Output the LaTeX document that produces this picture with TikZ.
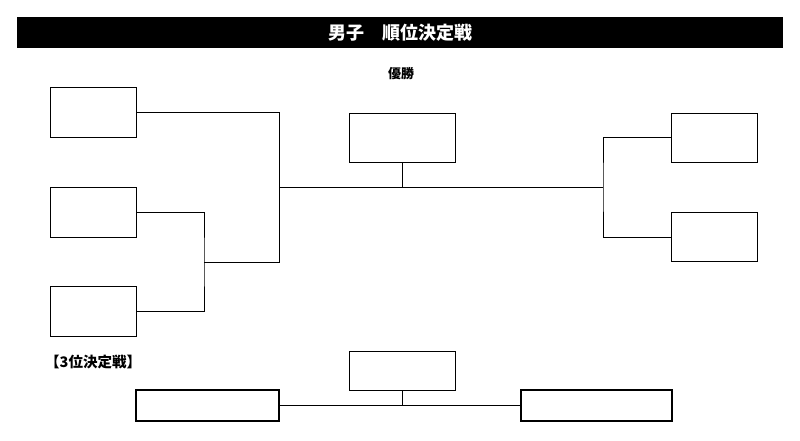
\documentclass[tikz,border=0pt]{standalone}
\usepackage{fontspec}
\newfontfamily\jpfont{Noto Sans CJK JP}
\usetikzlibrary{positioning}

\tikzset{
	entrybox/.style = {draw, line width = 1pt, minimum width = 86pt, minimum height = 50pt, inner sep = 0pt},
	finalbox/.style = {entrybox, minimum width = 106pt, minimum height = 49pt},
	thirdbox/.style = {draw, line width = 2.5pt, minimum height = 31pt, inner sep = 0pt},
	bracket/.style = {line width = 1pt},
	caption/.style = {font = \jpfont\bfseries\fontsize{13pt}{15pt}\selectfont, inner sep = 0pt}
}

\begin{document}
\begin{tikzpicture}[x = 1pt, y = -1pt]

	\useasboundingbox (0, 0) rectangle (800, 440);

	% Header

	\fill [black] (17, 17) rectangle (783, 48);
	\node [caption, text = white, font = \jpfont\bfseries\fontsize{18pt}{20pt}\selectfont] (title) at (400, 32.5) {男子　順位決定戦};

	% Final

	\node [caption] (champion) at (401, 74) {優勝};
	\node [finalbox] (final) at (402, 137.5) {};

	% Left side

	\node [entrybox] (left1) at (93, 112.5) {};
	\node [entrybox] (left2) at (93, 212) {};
	\node [entrybox] (left3) at (93, 311) {};

	% Right side

	\node [entrybox, minimum height = 49pt] (right1) at (714.5, 137.5) {};
	\node [entrybox, minimum height = 49pt] (right2) at (714.5, 237) {};

	% Junctions

	\coordinate (semi) at (204, 262);
	\coordinate (leftend) at (279, 262);
	\coordinate (leftmid) at (279, 187);
	\coordinate (rightmid) at (603, 187);

	% Bracket lines

	\draw [bracket] (left2.east) -| (semi) |- (left3.east);
	\draw [bracket] (left1.east) -| (leftend) -- (semi);
	\draw [bracket] (leftmid) -- (rightmid);
	\draw [bracket] (right1.west) -| (rightmid) |- (right2.west);
	\draw [bracket] (final.south) -- (final.south |- leftmid);

	% Third place

	\node [caption, anchor = west, font = \jpfont\bfseries\fontsize{14.5pt}{16pt}\selectfont] (thirdlabel) at (45, 362) {【3位決定戦】};
	\node [finalbox, minimum height = 39pt] (third) at (402, 371) {};
	\node [thirdbox, minimum width = 143pt] (thirdleft) at (207.5, 405.5) {};
	\node [thirdbox, minimum width = 151pt] (thirdright) at (596.5, 405.5) {};

	\draw [bracket] (thirdleft.east) -- (thirdright.west);
	\draw [bracket] (third.south) -- (third.south |- thirdleft.east);

\end{tikzpicture}
\end{document}
